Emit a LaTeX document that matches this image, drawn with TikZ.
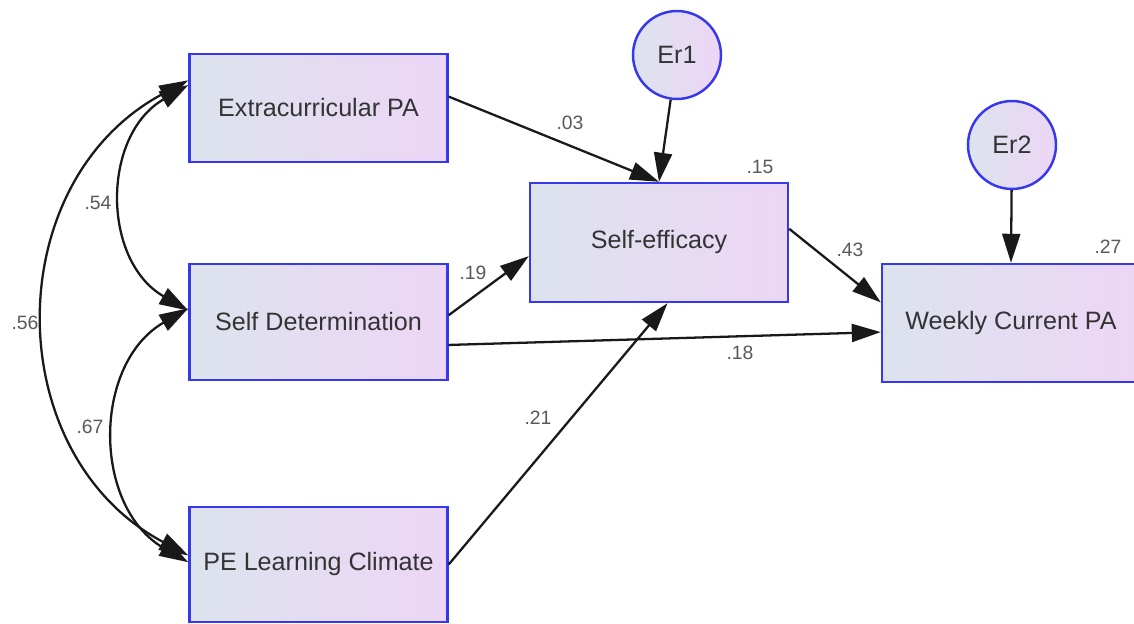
\documentclass[tikz,border=0pt]{standalone}
\usepackage{fontspec}
\setmainfont{Liberation Sans}
\usetikzlibrary{arrows.meta,positioning}
\definecolor{amosblue}{RGB}{55,55,235}
\definecolor{boxleft}{RGB}{220,227,237}
\definecolor{boxright}{RGB}{237,214,246}

\begin{document}
\begin{tikzpicture}[x=0.02cm, y=0.02cm,
    varbox/.style={rectangle,minimum width=5.16cm,minimum height=2.34cm,line width=1.4pt,draw=amosblue,left color=boxleft,right color=boxright,text=black!80,font={\fontsize{14.3}{16}\selectfont}},
    errcirc/.style={circle,minimum size=1.76cm,inner sep=0pt,line width=1.4pt,draw=amosblue,left color=boxleft,right color=boxright,text=black!80,font={\fontsize{14.3}{16}\selectfont}},
    coef/.style={inner sep=0pt,text=black!65,font={\fontsize{11}{13}\selectfont}},
    onearrow/.style={line width=1.3pt,black!90,-{Triangle[length=5.8mm,width=3.6mm]}},
    twoarrow/.style={line width=1.3pt,black!90,{Triangle[length=5.8mm,width=3.6mm]}-{Triangle[length=5.8mm,width=3.6mm]}},
   ]
    \useasboundingbox (0,0) rectangle (1134,-624);

    \node (ext) [varbox,minimum height=2.16cm] at (318.5,-108)   { Extracurricular PA };
    \node (det) [varbox,minimum height=2.32cm] at (318.5,-322)   { Self Determination };
    \node (pe)  [varbox,minimum height=2.30cm] at (318.5,-564.5) { PE Learning Climate };
    \node (eff) [varbox,minimum height=2.38cm] at (659,-242.5)   { Self-efficacy };
    \node (wk)  [varbox,minimum height=2.36cm] at (1011,-323)    { Weekly Current PA };

    \node (er1) [errcirc] at (677,-55)  { Er1 };
    \node (er2) [errcirc] at (1012,-145) { Er2 };

    \node (c03) [coef] at (570,-123)  { .03 };
    \node (c15) [coef] at (760,-167)  { .15 };
    \node (c27) [coef] at (1108,-247) { .27 };
    \node (c43) [coef] at (850,-250)  { .43 };
    \node (c19) [coef] at (473,-273)  { .19 };
    \node (c18) [coef] at (740,-353)  { .18 };
    \node (c21) [coef] at (538,-418)  { .21 };
    \node (c54) [coef] at (98,-203)   { .54 };
    \node (c56) [coef] at (25,-323)   { .56 };
    \node (c67) [coef] at (90,-427)   { .67 };

    \draw[onearrow] (ext.5) -- (eff.north);
    \draw[onearrow] (er1) -- (eff.north);
    \draw[onearrow] (det.3) -- (eff.186);
    \draw[onearrow] (det.-10) -- (wk.184);
    \draw[onearrow] (pe.east) -- (eff.-82);
    \draw[onearrow] (eff.6) -- (wk.171);
    \draw[onearrow] (er2) -- (wk.north);

    \draw[twoarrow] (ext.170) to[out=210,in=150,looseness=1.14] (det.175);
    \draw[twoarrow] (det.174) to[out=210,in=150,looseness=1.12] (pe.179);
    \draw[twoarrow] (ext.168) to[out=208,in=152,looseness=1.16] (pe.176);
  \end{tikzpicture}
\end{document}
